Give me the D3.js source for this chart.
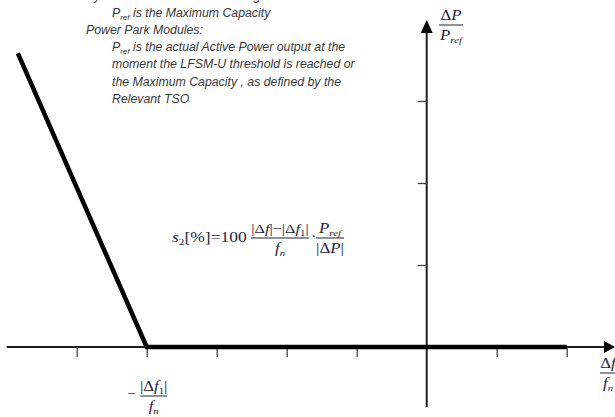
<!DOCTYPE html>
<html>
<head>
<meta charset="utf-8">
<script src="https://cdn.jsdelivr.net/npm/d3@7"></script>
<style>
  body { margin: 0; background: #fff; }
  svg { display: block; }
  .note { font-family: "Liberation Sans", Arial, sans-serif; font-style: italic; font-size: 12.3px; fill: #383838; }
  .math { font-family: "Liberation Serif", "Times New Roman", serif; fill: #23233a; font-size: 14px; }
</style>
</head>
<body>
<div id="chart"></div>
<script>
// data
const xTicks = [-5, -4, -3, -2, -1, 1, 2];
const yTicks = [1, 2, 3];
const droopX = [-5.84, -4, 2];
const droopY = [3.58, 0, 0];
const noteLines = [
  { indent: 0, text: "Synchronous Power Generating Modules:" },
  { indent: 1, text: " is the Maximum Capacity", pref: true },
  { indent: 0, text: "Power Park Modules:" },
  { indent: 1, text: "  is the actual Active Power output at the", pref: true },
  { indent: 1, text: "moment the LFSM-U threshold is reached or" },
  { indent: 1, text: "the Maximum Capacity , as defined by the" },
  { indent: 1, text: "Relevant TSO" }
];

const width = 615;
const height = 417;
const sx = 1.2; // the maths in the picture is a bit stretched sideways

const svg = d3.select("#chart").append("svg")
  .attr("width", width)
  .attr("height", height);

// scales
const x = d3.scaleLinear().domain([-6, 2.7]).range([6.7, 615.7]);
const y = d3.scaleLinear().domain([0, 4]).range([347, 19]);

const axisColor = "#1e1e1e";

// x axis line + arrow
svg.append("line")
  .attr("x1", x(-6)).attr("x2", 606)
  .attr("y1", y(0)).attr("y2", y(0))
  .attr("stroke", axisColor).attr("stroke-width", 2);
svg.append("path")
  .attr("d", `M604,${y(0) - 6}L615,${y(0)}L604,${y(0) + 6}Z`)
  .attr("fill", "#000");

// x ticks
const xAxis = svg.append("g")
  .attr("transform", `translate(0,${y(0)})`)
  .call(d3.axisBottom(x).tickValues(xTicks).tickSizeInner(10).tickSizeOuter(0).tickFormat(""));
xAxis.select(".domain").remove();
xAxis.selectAll(".tick line").attr("stroke", "#444").attr("stroke-width", 1.3);

// y axis line + arrow
svg.append("line")
  .attr("x1", x(0)).attr("x2", x(0))
  .attr("y1", 407).attr("y2", 30)
  .attr("stroke", axisColor).attr("stroke-width", 2);
svg.append("path")
  .attr("d", `M${x(0) - 6},33L${x(0)},20L${x(0) + 6},33Z`)
  .attr("fill", "#000");

const yAxis = svg.append("g")
  .attr("transform", `translate(${x(0)},0)`)
  .call(d3.axisLeft(y).tickValues(yTicks).tickSizeInner(9).tickSizeOuter(0).tickFormat(""));
yAxis.select(".domain").remove();
yAxis.selectAll(".tick line").attr("stroke", "#444").attr("stroke-width", 1.3);

// droop characteristic
const droop = droopX.map((d, i) => [d, droopY[i]]);
svg.append("path")
  .datum(droop)
  .attr("d", d3.line().x(d => x(d[0])).y(d => y(d[1])))
  .attr("fill", "none")
  .attr("stroke", "#000")
  .attr("stroke-width", 4.5)
  .attr("stroke-linejoin", "miter");

// note block
const note = svg.append("g");
noteLines.forEach((l, i) => {
  const t = note.append("text")
    .attr("class", "note")
    .attr("x", l.indent ? 112 : 86)
    .attr("y", i * 17.2 - 0.5);
  if (l.pref) {
    t.append("tspan").text("P");
    t.append("tspan").attr("dy", 3).attr("font-size", "8px").text("ref");
    t.append("tspan").attr("dy", -3).text(l.text);
  } else {
    t.text(l.text);
  }
});

// stretched group anchored at screen x
function stretched(cx, s) {
  return svg.append("g").attr("transform", `translate(${cx},0) scale(${s || sx},1)`);
}

// helper for fractions, cx is the screen centre, w the bar width on screen
function frac(cx, bar, w, num, den, numSize) {
  const g = stretched(cx);
  g.append("line")
    .attr("x1", -w / 2 / sx).attr("x2", w / 2 / sx)
    .attr("y1", bar).attr("y2", bar)
    .attr("stroke", "#23233a").attr("stroke-width", 1);
  const n = g.append("text").attr("class", "math").attr("text-anchor", "middle")
    .attr("x", 0).attr("y", bar - 4.5);
  if (numSize) n.style("font-size", numSize);
  num(n);
  const d = g.append("text").attr("class", "math").attr("text-anchor", "middle")
    .attr("x", 0).attr("y", bar + 15);
  den(d);
  return g;
}

function pref(t) {
  t.append("tspan").attr("font-style", "italic").text("P");
  t.append("tspan").attr("font-style", "italic").attr("font-size", "9px").attr("dy", 3).text("ref");
}
function fn(t) {
  t.append("tspan").attr("font-style", "italic").text("f");
  t.append("tspan").attr("font-style", "italic").attr("font-size", "9px").attr("dy", 3).text("n");
}
function absDf1(t) {
  t.append("tspan").text("|Δ");
  t.append("tspan").attr("font-style", "italic").text("f");
  t.append("tspan").attr("font-size", "9px").attr("dy", 3).text("1");
  t.append("tspan").attr("dy", -3).text("|");
}

// y axis label
frac(451, 25, 24,
  t => { t.append("tspan").text("Δ"); t.append("tspan").attr("font-style", "italic").text("P"); },
  pref);

// x axis label
frac(608, 373, 16,
  t => { t.append("tspan").text("Δ"); t.append("tspan").attr("font-style", "italic").text("f"); },
  fn);

// kink label
stretched(x(-4) - 19, 1).append("text").attr("class", "math").attr("x", 0).attr("y", 398).text("−");
frac(x(-4) + 7, 396, 27, absDf1, fn);

// formula
const lhs = stretched(172, 1.25).append("text").attr("class", "math").attr("x", 0).attr("y", 242);
lhs.append("tspan").attr("font-style", "italic").text("s");
lhs.append("tspan").attr("font-size", "9px").attr("dy", 3).text("2");
lhs.append("tspan").attr("dy", -3).text("[%]=100");
frac(280, 238, 58,
  t => {
    t.append("tspan").text("|Δ");
    t.append("tspan").attr("font-style", "italic").text("f");
    t.append("tspan").text("|−");
    absDf1(t);
  },
  fn, "13.5px");
stretched(311).append("text").attr("class", "math").attr("x", 0).attr("y", 241).text("·");
frac(330, 238, 28,
  pref,
  t => { t.append("tspan").text("|Δ"); t.append("tspan").attr("font-style", "italic").text("P"); t.append("tspan").text("|"); });
</script>
</body>
</html>
